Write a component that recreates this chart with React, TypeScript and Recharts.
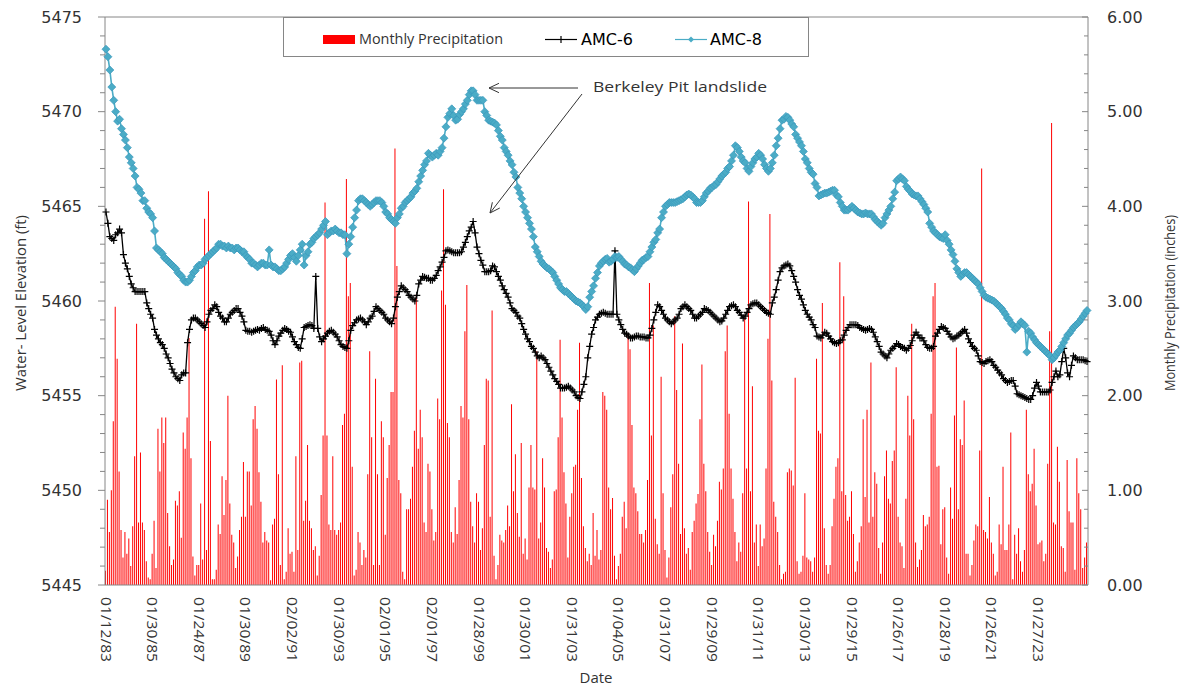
import { ComposedChart, Bar, Line, XAxis, YAxis, ReferenceLine } from 'recharts';

const W = 1183;
const H = 689;
const AXIS = '#868686';
const TEXT = '#333333';
const BLUE = '#4BACC6';

// date labels shown every 24 months
const tickLabels = [
  '01/12/83', '01/30/85', '01/24/87', '01/30/89', '02/02/91', '01/30/93', '02/01/95',
  '02/01/97', '01/28/99', '01/30/01', '01/31/03', '01/04/05', '01/31/07', '01/29/09',
  '01/31/11', '01/30/13', '01/29/15', '01/26/17', '01/28/19', '01/26/21', '01/27/23',
];
const leftMajor = [5445, 5450, 5455, 5460, 5465, 5470, 5475];
const rightMajor = [0, 1, 2, 3, 4, 5, 6];

// monthly precipitation (inches), Jan 1983 - Feb 2025, one row per year
const precip = [
  0.15, 0.9, 0.56, 1.0, 1.73, 2.94, 2.39, 1.2, 0.58, 0.29, 0.56, 0.33,
  0.49, 0.2, 0.62, 1.36, 2.76, 0.66, 1.4, 0.66, 0.58, 0.25, 0.08, 0.06,
  0.33, 0.68, 0.18, 1.65, 1.2, 1.77, 1.5, 1.77, 0.76, 0.41, 0.21, 0.27,
  0.89, 0.84, 0.99, 0.5, 1.61, 1.44, 1.77, 2.61, 1.34, 0.3, 0.1, 0.21,
  0.21, 0.86, 0.27, 3.87, 0.37, 4.16, 1.52, 0.06, 0.06, 0.16, 0.64, 0.54,
  1.15, 0.74, 1.11, 2.0, 0.86, 0.53, 0.45, 0.18, 0.3, 0.58, 0.72, 1.3,
  0.72, 1.2, 1.2, 0.84, 1.75, 1.89, 1.65, 1.19, 0.88, 0.45, 0.56, 0.47,
  0.45, 0.05, 0.64, 0.7, 2.17, 1.17, 0.21, 2.32, 0.06, 0.14, 0.6, 0.33,
  0.35, 0.14, 1.36, 0.37, 2.35, 2.37, 0.68, 0.89, 1.48, 0.68, 0.6, 0.37,
  0.41, 0.1, 0.31, 0.95, 1.58, 4.04, 1.58, 0.64, 0.58, 1.36, 0.58, 0.53,
  0.58, 0.66, 1.69, 1.81, 4.29, 3.05, 3.19, 1.25, 0.1, 0.16, 0.56, 0.45,
  0.21, 0.37, 0.29, 1.17, 2.47, 1.56, 0.21, 2.18, 1.17, 0.21, 1.73, 1.56,
  0.53, 1.13, 1.48, 2.04, 2.04, 4.61, 3.37, 1.11, 0.97, 0.14, 0.06, 0.8,
  0.8, 0.91, 1.25, 1.63, 3.07, 1.44, 1.85, 1.56, 0.66, 0.56, 1.28, 1.2,
  0.8, 0.47, 0.56, 1.97, 1.75, 3.11, 4.18, 2.96, 1.71, 1.56, 0.56, 0.45,
  0.82, 0.54, 1.11, 1.89, 1.77, 2.68, 3.17, 1.75, 0.88, 0.62, 0.45, 0.97,
  0.88, 0.37, 0.6, 1.48, 2.18, 2.16, 0.72, 2.9, 0.31, 0.06, 0.21, 0.53,
  0.47, 0.45, 0.58, 0.84, 0.62, 1.91, 0.99, 1.38, 0.76, 0.51, 1.5, 0.33,
  0.49, 0.27, 1.03, 1.48, 1.03, 1.01, 2.47, 0.49, 0.66, 1.34, 1.03, 0.39,
  0.35, 0.18, 0.27, 0.99, 1.01, 1.56, 2.59, 1.77, 1.19, 0.86, 0.29, 0.72,
  0.97, 1.25, 1.27, 1.85, 2.56, 1.13, 0.62, 0.39, 0.25, 0.33, 0.21, 0.76,
  0.31, 0.58, 0.27, 0.37, 2.04, 2.0, 1.85, 1.03, 0.8, 0.92, 0.31, 0.06,
  0.2, 0.33, 0.72, 0.88, 0.6, 2.65, 2.49, 1.69, 1.03, 0.97, 0.78, 0.54,
  0.54, 0.45, 0.58, 1.11, 3.19, 1.58, 2.74, 0.7, 0.43, 0.33, 2.2, 0.97,
  0.37, 0.08, 0.29, 0.82, 1.17, 2.84, 2.06, 1.28, 0.54, 2.55, 0.6, 0.33,
  0.39, 0.16, 0.56, 0.68, 0.86, 0.96, 1.75, 2.33, 1.28, 0.99, 0.56, 0.35,
  0.21, 0.53, 0.41, 0.68, 1.09, 1.01, 1.23, 2.47, 2.74, 1.81, 1.23, 0.91,
  0.56, 0.25, 0.45, 0.35, 0.97, 2.82, 1.23, 4.05, 0.99, 2.1, 0.45, 0.64,
  0.2, 0.64, 0.41, 0.49, 1.23, 2.6, 3.92, 2.16, 0.88, 0.72, 0.56, 0.21,
  0.06, 0.12, 0.14, 1.19, 1.23, 1.21, 1.05, 2.19, 0.25, 0.12, 0.14, 0.31,
  0.97, 0.29, 0.27, 0.25, 0.14, 0.29, 2.39, 1.63, 1.6, 2.98, 0.6, 0.21,
  0.12, 0.21, 0.62, 0.91, 1.25, 1.34, 3.41, 0.99, 3.05, 0.95, 0.68, 0.72,
  0.99, 0.54, 0.14, 0.25, 0.45, 0.62, 1.75, 0.93, 1.85, 0.66, 2.35, 0.72,
  1.19, 1.07, 0.39, 0.12, 0.45, 1.15, 1.42, 0.91, 0.86, 1.31, 1.42, 2.3,
  0.72, 0.45, 0.41, 0.18, 0.91, 2.0, 1.58, 2.76, 1.75, 0.45, 0.19, 0.27,
  0.37, 0.74, 0.62, 0.64, 0.72, 1.81, 3.05, 3.19, 1.25, 1.26, 0.43, 0.8,
  0.82, 0.29, 0.12, 1.03, 0.7, 1.79, 2.51, 0.8, 1.54, 1.48, 1.95, 0.33,
  0.33, 0.1, 0.21, 0.47, 0.64, 0.62, 1.42, 4.4, 0.58, 0.56, 0.49, 0.93,
  0.45, 0.33, 0.1, 0.14, 0.64, 0.43, 1.25, 0.37, 0.37, 0.64, 1.61, 0.06,
  0.53, 0.33, 0.6, 0.25, 0.14, 0.37, 1.85, 1.17, 0.99, 1.07, 1.44, 0.84,
  0.43, 0.45, 0.47, 0.25, 0.33, 1.28, 2.68, 4.88, 0.66, 0.64, 1.46, 1.09,
  0.41, 0.39, 0.14, 1.32, 0.78, 0.66, 0.66, 0.16, 1.34, 0.97, 0.8, 0.18,
  0.29, 0.45,
];

// AMC-6 water level (ft), same months
const amc6 = [
  5464.7, 5464.1, 5463.4, 5463.3, 5463.2, 5463.5, 5463.6, 5463.8, 5463.6, 5462.45, 5462.0, 5461.7,
  5461.3, 5460.9, 5460.7, 5460.5, 5460.5, 5460.5, 5460.5, 5460.5, 5460.5, 5459.9, 5459.6, 5459.3,
  5459.1, 5458.5, 5458.2, 5458.0, 5457.8, 5457.7, 5457.5, 5457.2, 5457.0, 5456.7, 5456.4, 5456.2,
  5456.0, 5455.9, 5455.8, 5456.1, 5456.2, 5456.2, 5457.8, 5458.5, 5459.0, 5459.1, 5459.1, 5459.0,
  5458.9, 5458.8, 5458.7, 5458.6, 5458.9, 5459.3, 5459.5, 5459.6, 5459.8, 5459.7, 5459.4, 5459.2,
  5459.1, 5458.9, 5458.9, 5459.1, 5459.3, 5459.4, 5459.5, 5459.6, 5459.6, 5459.4, 5459.2, 5458.9,
  5458.45, 5458.4, 5458.4, 5458.35, 5458.4, 5458.45, 5458.5, 5458.45, 5458.55, 5458.6, 5458.5, 5458.45,
  5458.4, 5458.2, 5457.9, 5457.7, 5457.9, 5458.15, 5458.3, 5458.45, 5458.55, 5458.5, 5458.4, 5458.35,
  5458.1, 5457.85, 5457.7, 5457.55, 5457.5, 5458.0, 5458.6, 5458.65, 5458.7, 5458.75, 5458.7, 5458.55,
  5461.3, 5458.55, 5458.1, 5457.85, 5458.0, 5458.15, 5458.3, 5458.4, 5458.45, 5458.35, 5458.25, 5458.1,
  5457.9, 5457.7, 5457.6, 5457.55, 5457.5, 5457.9, 5458.45, 5458.7, 5458.85, 5459.0, 5459.05, 5459.1,
  5459.0, 5458.9, 5458.75, 5458.9, 5459.1, 5459.2, 5459.45, 5459.7, 5459.6, 5459.5, 5459.4, 5459.3,
  5459.1, 5459.0, 5458.9, 5458.8, 5459.1, 5459.7, 5460.2, 5460.5, 5460.8, 5460.7, 5460.6, 5460.5,
  5460.3, 5460.2, 5460.1, 5460.0, 5460.3, 5460.9, 5461.1, 5461.3, 5461.25, 5461.2, 5461.2, 5461.1,
  5461.1, 5461.2, 5461.35, 5461.6, 5461.8, 5462.05, 5462.3, 5462.65, 5462.7, 5462.65, 5462.6, 5462.55,
  5462.55, 5462.55, 5462.55, 5462.6, 5462.85, 5463.1, 5463.4, 5463.7, 5463.9, 5464.2, 5463.6, 5462.85,
  5462.5, 5462.15, 5461.9, 5461.55, 5461.55, 5461.55, 5461.6, 5461.85, 5461.8, 5461.55, 5461.3, 5461.1,
  5460.8, 5460.6, 5460.4, 5460.2, 5459.9, 5459.6, 5459.5, 5459.4, 5459.2, 5459.1, 5458.8, 5458.5,
  5458.25, 5458.0, 5457.85, 5457.6, 5457.5, 5457.3, 5457.1, 5457.0, 5457.1, 5457.0, 5456.9, 5456.7,
  5456.5, 5456.3, 5456.1, 5455.9, 5455.75, 5455.6, 5455.4, 5455.4, 5455.4, 5455.45, 5455.5, 5455.4,
  5455.3, 5455.2, 5455.0, 5454.9, 5454.85, 5455.2, 5455.6, 5456.0, 5457.0, 5457.6, 5458.25, 5458.6,
  5459.0, 5459.15, 5459.3, 5459.35, 5459.4, 5459.35, 5459.3, 5459.3, 5459.3, 5459.3, 5462.65, 5459.3,
  5459.0, 5458.75, 5458.5, 5458.3, 5458.25, 5458.15, 5458.05, 5458.05, 5458.1, 5458.15, 5458.15, 5458.1,
  5458.1, 5458.1, 5458.05, 5458.05, 5458.2, 5458.55, 5459.0, 5459.4, 5459.8, 5459.7, 5459.5, 5459.3,
  5459.1, 5459.0, 5458.9, 5458.8, 5458.9, 5459.0, 5459.1, 5459.3, 5459.6, 5459.7, 5459.8, 5459.7,
  5459.6, 5459.5, 5459.3, 5459.1, 5459.1, 5459.2, 5459.3, 5459.4, 5459.6, 5459.55, 5459.5, 5459.4,
  5459.3, 5459.2, 5459.1, 5459.0, 5458.9, 5458.95, 5459.1, 5459.3, 5459.5, 5459.7, 5459.75, 5459.8,
  5459.7, 5459.5, 5459.4, 5459.25, 5459.1, 5459.2, 5459.4, 5459.6, 5459.8, 5459.85, 5459.9, 5459.9,
  5459.8, 5459.7, 5459.6, 5459.5, 5459.4, 5459.35, 5459.3, 5459.9, 5460.2, 5460.6, 5461.1, 5461.55,
  5461.75, 5461.85, 5461.9, 5461.95, 5461.85, 5461.6, 5461.3, 5461.0, 5460.6, 5460.3, 5460.1, 5459.8,
  5459.5, 5459.3, 5459.15, 5459.0, 5458.75, 5458.6, 5458.15, 5458.1, 5458.05, 5458.2, 5458.35, 5458.3,
  5458.15, 5458.0, 5457.85, 5457.8, 5457.75, 5457.8, 5457.9, 5457.95, 5458.2, 5458.45, 5458.6, 5458.75,
  5458.75, 5458.75, 5458.75, 5458.7, 5458.6, 5458.55, 5458.5, 5458.45, 5458.5, 5458.55, 5458.5, 5458.35,
  5458.1, 5457.85, 5457.6, 5457.3, 5457.2, 5457.1, 5457.0, 5457.2, 5457.4, 5457.5, 5457.6, 5457.75,
  5457.7, 5457.6, 5457.55, 5457.5, 5457.4, 5457.5, 5457.65, 5457.9, 5458.2, 5458.35, 5458.2, 5458.05,
  5458.05, 5457.9, 5457.7, 5457.55, 5457.5, 5457.5, 5457.6, 5458.15, 5458.3, 5458.5, 5458.65, 5458.6,
  5458.55, 5458.4, 5458.25, 5458.1, 5458.0, 5458.05, 5458.15, 5458.2, 5458.3, 5458.4, 5458.5, 5458.3,
  5458.0, 5457.8, 5457.6, 5457.5, 5457.4, 5457.1, 5456.8, 5456.75, 5456.7, 5456.8, 5456.85, 5456.9,
  5456.8, 5456.6, 5456.5, 5456.35, 5456.2, 5456.1, 5455.9, 5455.8, 5455.7, 5455.75, 5455.8, 5455.8,
  5455.5, 5455.1, 5455.05, 5455.0, 5454.95, 5454.9, 5454.85, 5454.8, 5454.8, 5455.0, 5455.4, 5455.7,
  5455.5, 5455.2, 5455.2, 5455.2, 5455.2, 5455.2, 5455.3, 5455.7, 5456.0, 5456.3, 5456.0, 5456.1,
  5456.8, 5457.5, 5457.0, 5456.2, 5456.0, 5456.6, 5457.1, 5457.0, 5456.9, 5456.9, 5456.9, 5456.9,
  5456.85, 5456.8,
];

// AMC-8 water level (ft), same months
const amc8 = [
  5473.3, 5472.9, 5472.2, 5471.3, 5470.6, 5470.0, 5469.5, 5469.6, 5469.1, 5468.8, 5468.5, 5468.1,
  5467.6, 5467.3, 5467.0, 5466.6, 5466.0, 5465.9, 5465.7, 5465.3, 5465.3, 5464.9, 5464.7, 5464.6,
  5464.4, 5463.7, 5462.8, 5462.7, 5462.6, 5462.5, 5462.3, 5462.2, 5462.1, 5462.0, 5461.9, 5461.8,
  5461.7, 5461.5, 5461.4, 5461.3, 5461.1, 5461.0, 5461.0, 5461.1, 5461.3, 5461.5, 5461.6, 5461.8,
  5461.9, 5461.9, 5462.0, 5462.2, 5462.3, 5462.4, 5462.5, 5462.6, 5462.7, 5462.8, 5463.0, 5463.0,
  5462.9, 5462.9, 5462.8, 5462.9, 5462.8, 5462.8, 5462.7, 5462.8, 5462.8, 5462.7, 5462.6, 5462.6,
  5462.4, 5462.3, 5462.2, 5462.0, 5462.0, 5461.9, 5461.8, 5461.9, 5462.0, 5462.0, 5461.9, 5461.9,
  5462.7, 5461.9, 5461.8, 5461.8, 5461.7, 5461.6, 5461.6, 5461.7, 5461.8, 5462.0, 5462.2, 5462.4,
  5462.5, 5462.3, 5462.1, 5462.4, 5462.7, 5463.0, 5461.9, 5462.4, 5462.6, 5463.0, 5463.1, 5463.3,
  5463.4, 5463.5, 5463.6, 5463.8, 5464.0, 5464.2, 5463.5, 5463.6, 5463.7, 5463.7, 5463.8, 5463.7,
  5463.6, 5463.6, 5463.5, 5463.5, 5462.5, 5463.0, 5463.4, 5463.9, 5464.4, 5464.8, 5465.3, 5465.4,
  5465.4, 5465.3, 5465.2, 5465.1, 5465.0, 5465.1, 5465.2, 5465.3, 5465.3, 5465.3, 5465.2, 5465.0,
  5464.7, 5464.6, 5464.4, 5464.3, 5464.2, 5464.1, 5464.4, 5464.6, 5464.9, 5465.0, 5465.2, 5465.3,
  5465.4, 5465.5, 5465.7, 5465.8, 5465.95, 5466.3, 5466.6, 5466.9, 5467.2, 5467.4, 5467.8, 5467.7,
  5467.6, 5467.7, 5467.8, 5467.7, 5467.9, 5468.1, 5468.6, 5469.2, 5469.7, 5469.9, 5470.15, 5469.8,
  5469.55, 5469.6, 5469.85, 5470.0, 5470.15, 5470.4, 5470.6, 5470.9, 5471.1, 5471.1, 5470.9, 5470.6,
  5470.6, 5470.6, 5470.6, 5470.0, 5469.8, 5469.55, 5469.5, 5469.45, 5469.4, 5469.3, 5469.0, 5468.7,
  5468.5, 5468.1, 5467.9, 5467.7, 5467.4, 5467.2, 5466.8, 5466.55, 5466.0, 5465.7, 5465.4, 5465.0,
  5464.7, 5464.4, 5464.1, 5463.8, 5463.4, 5462.85, 5462.6, 5462.35, 5462.1, 5461.95, 5461.85, 5461.75,
  5461.7, 5461.6, 5461.5, 5461.3, 5461.1, 5460.9, 5460.7, 5460.6, 5460.5, 5460.5, 5460.4, 5460.3,
  5460.2, 5460.1, 5460.0, 5459.95, 5459.9, 5459.8, 5459.7, 5459.55, 5459.7, 5460.2, 5460.5, 5460.8,
  5461.2, 5461.5, 5461.85, 5462.0, 5462.1, 5462.2, 5462.25, 5462.05, 5462.1, 5462.2, 5462.35, 5462.3,
  5462.35, 5462.2, 5462.1, 5461.95, 5461.9, 5461.8, 5461.75, 5461.65, 5461.55, 5461.7, 5461.85, 5462.0,
  5462.15, 5462.2, 5462.3, 5462.35, 5462.6, 5462.85, 5463.1, 5463.25, 5463.6, 5463.8, 5464.4, 5464.7,
  5465.0, 5465.1, 5465.2, 5465.2, 5465.2, 5465.2, 5465.25, 5465.3, 5465.35, 5465.4, 5465.5, 5465.6,
  5465.65, 5465.6, 5465.5, 5465.4, 5465.2, 5465.2, 5465.2, 5465.3, 5465.5, 5465.7, 5465.8, 5465.95,
  5466.0, 5466.1, 5466.15, 5466.3, 5466.45, 5466.6, 5466.7, 5466.8, 5467.0, 5467.1, 5467.4, 5467.7,
  5468.2, 5468.1, 5467.9, 5467.6, 5467.4, 5467.3, 5467.0, 5466.85, 5467.1, 5467.3, 5467.5, 5467.6,
  5467.8, 5467.7, 5467.5, 5467.2, 5467.0, 5466.85, 5467.0, 5467.3, 5467.7, 5468.2, 5468.6, 5469.1,
  5469.55, 5469.6, 5469.75, 5469.7, 5469.55, 5469.35, 5469.2, 5468.8, 5468.6, 5468.4, 5468.2, 5467.9,
  5467.5, 5467.3, 5467.0, 5466.8, 5466.7, 5466.2, 5466.0, 5465.55, 5465.6, 5465.65, 5465.7, 5465.7,
  5465.75, 5465.8, 5465.85, 5465.85, 5465.6, 5465.5, 5465.2, 5465.0, 5464.8, 5464.8, 5464.8, 5464.9,
  5465.0, 5464.9, 5464.8, 5464.7, 5464.65, 5464.6, 5464.6, 5464.65, 5464.6, 5464.6, 5464.6, 5464.45,
  5464.3, 5464.2, 5464.1, 5464.0, 5464.1, 5464.4, 5464.6, 5464.8, 5465.0, 5465.4, 5465.75, 5466.35,
  5466.45, 5466.55, 5466.45, 5466.35, 5466.05, 5465.9, 5465.8, 5465.65, 5465.6, 5465.55, 5465.55, 5465.4,
  5465.25, 5465.1, 5464.9, 5464.7, 5464.1, 5463.9, 5463.7, 5463.6, 5463.5, 5463.4, 5463.35, 5463.3,
  5463.5, 5463.2, 5463.0, 5462.7, 5462.45, 5462.1, 5461.7, 5461.5, 5461.3, 5461.4, 5461.5, 5461.5,
  5461.4, 5461.3, 5461.2, 5461.1, 5461.0, 5460.9, 5460.7, 5460.5, 5460.3, 5460.2, 5460.15, 5460.1,
  5460.05, 5460.0, 5459.9, 5459.8, 5459.7, 5459.6, 5459.45, 5459.3, 5459.1, 5459.0, 5458.8, 5458.7,
  5458.5, 5458.6, 5458.75, 5458.9, 5458.8, 5458.7, 5457.3, 5458.4, 5458.3, 5458.1, 5457.95, 5457.8,
  5457.7, 5457.6, 5457.5, 5457.4, 5457.3, 5457.2, 5457.1, 5456.9, 5457.0, 5457.15, 5457.3, 5457.4,
  5457.6, 5457.8, 5458.0, 5458.2, 5458.3, 5458.45, 5458.6, 5458.7, 5458.8, 5458.9, 5459.05, 5459.2,
  5459.35, 5459.5,
];

const data = precip.map((p, i) => ({ i, precip: p, amc6: amc6[i], amc8: amc8[i] }));

// minor ticks: every 1 ft on the left, every 0.2 in on the right
const leftTicks: number[] = [];
for (let v = leftMajor[0]; v <= leftMajor[leftMajor.length - 1]; v++) leftTicks.push(v);
const rightTicks: number[] = [];
for (let k = 0; k <= rightMajor[rightMajor.length - 1] * 5; k++) rightTicks.push(k / 5);

function LeftTick({ x, y, payload }: any) {
  const v = payload.value;
  const major = leftMajor.includes(v);
  const ax = x + 23;
  return (
    <g>
      <line x1={ax - (major ? 7 : 5)} x2={ax} y1={y} y2={y} stroke={AXIS} />
      {major && (
        <text x={x} y={y} dy="0.36em" textAnchor="end" fontFamily="DejaVu Sans" fontSize={16} fill={TEXT}>
          {v}
        </text>
      )}
    </g>
  );
}

function RightTick({ x, y, payload }: any) {
  const v = payload.value;
  const major = rightMajor.some(m => Math.abs(m - v) < 1e-6);
  const ax = x - 19;
  return (
    <g>
      <line x1={ax - (major ? 6 : 4)} x2={ax} y1={y} y2={y} stroke={AXIS} />
      {major && (
        <text x={x} y={y} dy="0.36em" textAnchor="start" fontFamily="DejaVu Sans" fontSize={16} fill={TEXT}>
          {v.toFixed(2)}
        </text>
      )}
    </g>
  );
}

function DateTick({ x, y, payload }: any) {
  const label = tickLabels[payload.value / 24];
  if (!label) return null;
  return (
    <text
      transform={`translate(${x},${y}) rotate(90)`}
      dy="0.36em"
      textAnchor="start"
      fontFamily="Open Sans"
      fontSize={15}
      fill={TEXT}
      textLength={65}
      lengthAdjust="spacingAndGlyphs"
    >
      {label}
    </text>
  );
}

function PlusDot(props: any) {
  const { cx, cy, key } = props;
  if (cx == null || cy == null) return <g key={key} />;
  return <path key={key} d={`M${cx - 3.5},${cy}h7M${cx},${cy - 3.5}v7`} stroke="#000" strokeWidth={1.2} fill="none" />;
}

function DiamondDot(props: any) {
  const { cx, cy, key } = props;
  if (cx == null || cy == null) return <g key={key} />;
  return (
    <path
      key={key}
      d={`M${cx},${cy - 4}L${cx + 4},${cy}L${cx},${cy + 4}L${cx - 4},${cy}Z`}
      fill={BLUE}
      stroke="#3a97bb"
      strokeWidth={0.7}
    />
  );
}

// open arrow head at (x2, y2)
function arrowHead(x1: number, y1: number, x2: number, y2: number, len = 11, ang = 0.44) {
  const a = Math.atan2(y1 - y2, x1 - x2);
  const p1 = [x2 + len * Math.cos(a + ang), y2 + len * Math.sin(a + ang)];
  const p2 = [x2 + len * Math.cos(a - ang), y2 + len * Math.sin(a - ang)];
  return `M${p1[0]},${p1[1]}L${x2},${y2}L${p2[0]},${p2[1]}`;
}

export default function App() {
  return (
    <div style={{ position: 'absolute', left: 0, top: 0, width: W, height: H, background: '#fff' }}>
      <ComposedChart width={W} height={H} data={data} margin={{ top: 17, right: 0, bottom: 0, left: 0 }}>
        <XAxis
          dataKey="i"
          height={104}
          interval={23}
          tick={<DateTick />}
          tickLine={false}
          tickSize={0}
          tickMargin={12}
          axisLine={{ stroke: AXIS }}
        />
        <YAxis
          yAxisId="left"
          orientation="left"
          width={105}
          domain={[5445, 5475]}
          ticks={leftTicks}
          interval={0}
          tick={<LeftTick />}
          tickLine={false}
          tickSize={0}
          tickMargin={23}
          axisLine={{ stroke: AXIS }}
        />
        <YAxis
          yAxisId="right"
          orientation="right"
          width={95}
          domain={[0, 6]}
          ticks={rightTicks}
          interval={0}
          tick={<RightTick />}
          tickLine={false}
          tickSize={0}
          tickMargin={19}
          axisLine={{ stroke: AXIS }}
        />
        <ReferenceLine yAxisId="left" y={5475} stroke={AXIS} />
        <Bar yAxisId="right" dataKey="precip" name="Monthly Precipitation" fill="#ff0000" barSize={1} isAnimationActive={false} />
        <Line
          yAxisId="left"
          type="linear"
          dataKey="amc6"
          name="AMC-6"
          stroke="#000"
          strokeWidth={1.3}
          dot={PlusDot}
          activeDot={false}
          isAnimationActive={false}
        />
        <Line
          yAxisId="left"
          type="linear"
          dataKey="amc8"
          name="AMC-8"
          stroke={BLUE}
          strokeWidth={1.6}
          dot={DiamondDot}
          activeDot={false}
          isAnimationActive={false}
        />
      </ComposedChart>

      <svg width={W} height={H} style={{ position: 'absolute', left: 0, top: 0, pointerEvents: 'none' }}>
        {/* axis titles */}
        <text
          transform="translate(21,303) rotate(-90)"
          textAnchor="middle"
          dy="0.35em"
          fontFamily="Open Sans"
          fontSize={14}
          fill={TEXT}
          textLength={176}
          lengthAdjust="spacingAndGlyphs"
        >
          Water- Level Elevation (ft)
        </text>
        <text
          transform="translate(1170,303) rotate(-90)"
          textAnchor="middle"
          dy="0.35em"
          fontFamily="Open Sans"
          fontSize={14}
          fill={TEXT}
          textLength={176}
          lengthAdjust="spacingAndGlyphs"
        >
          Monthly Precipitation (inches)
        </text>
        <text x={596} y={678} dy="0.35em" textAnchor="middle" fontFamily="Open Sans" fontSize={15} fill={TEXT}>
          Date
        </text>

        {/* legend */}
        <rect x={283.5} y={17.5} width={525} height={39} fill="#fff" stroke={AXIS} />
        <rect x={323} y={35} width={32} height={9} fill="#ff0000" />
        <text x={359} y={39.5} dy="0.35em" fontFamily="Open Sans" fontSize={14} fill={TEXT} textLength={144} lengthAdjust="spacingAndGlyphs">
          Monthly Precipitation
        </text>
        <line x1={545} x2={577} y1={39.5} y2={39.5} stroke="#000" strokeWidth={1.2} />
        <path d="M557.5,39.5h7M561,36v7" stroke="#000" strokeWidth={1.2} />
        <text x={581} y={39.5} dy="0.36em" fontFamily="DejaVu Sans" fontSize={16} fill="#000">
          AMC-6
        </text>
        <line x1={675} x2={707} y1={39.5} y2={39.5} stroke={BLUE} strokeWidth={1.2} />
        <path d="M691,36.5l3,3l-3,3l-3,-3z" fill={BLUE} />
        <text x={710} y={39.5} dy="0.36em" fontFamily="DejaVu Sans" fontSize={16} fill="#000">
          AMC-8
        </text>

        {/* annotation */}
        <text x={593} y={87} dy="0.35em" fontFamily="Open Sans" fontSize={15} fill={TEXT} textLength={174} lengthAdjust="spacingAndGlyphs">
          Berkeley Pit landslide
        </text>
        <line x1={578} y1={88} x2={489} y2={88} stroke={TEXT} />
        <path d={arrowHead(578, 88, 489, 88)} stroke={TEXT} fill="none" />
        <line x1={582} y1={94} x2={490} y2={213} stroke={TEXT} />
        <path d={arrowHead(582, 94, 490, 213)} stroke={TEXT} fill="none" />
      </svg>
    </div>
  );
}
